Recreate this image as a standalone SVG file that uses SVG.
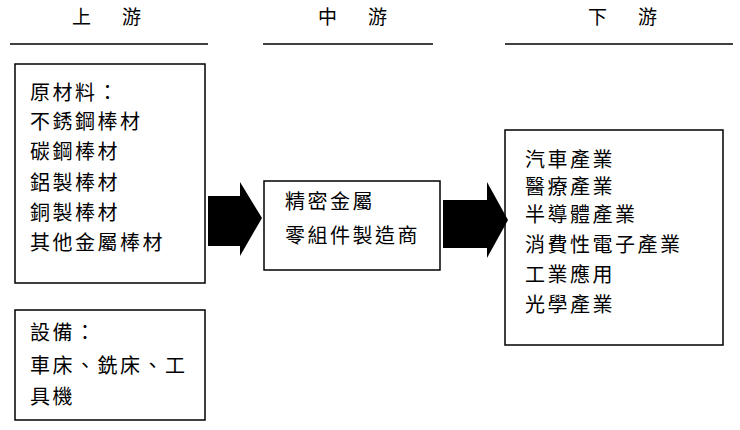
<svg xmlns="http://www.w3.org/2000/svg" width="740" height="430" viewBox="0 0 740 430">
<style>
text{font-family:"Liberation Serif","Noto Sans CJK TC",serif;font-size:20px;letter-spacing:2.5px;fill:#000}
.h{font-size:19px;letter-spacing:6px}
.b{fill:#fff;stroke:#000;stroke-width:1.5}
.u{stroke:#000;stroke-width:1.5}
</style>
<rect width="740" height="430" fill="#fff"/>
<g id="headers">
<text class="h" x="72" y="24">上　游</text>
<text class="h" x="318" y="24">中　游</text>
<text class="h" x="588" y="24">下　游</text>
<line class="u" x1="10" y1="44" x2="208" y2="44"/>
<line class="u" x1="263" y1="44" x2="433" y2="44"/>
<line class="u" x1="505" y1="44" x2="733" y2="44"/>
</g>
<g id="materials">
<rect class="b" x="15" y="64" width="190" height="219"/>
<text x="30" y="100">原材料：</text>
<text x="30" y="129">不銹鋼棒材</text>
<text x="30" y="159">碳鋼棒材</text>
<text x="30" y="190">鋁製棒材</text>
<text x="30" y="220">銅製棒材</text>
<text x="30" y="250">其他金屬棒材</text>
</g>
<g id="equipment">
<rect class="b" x="15" y="310" width="190" height="110"/>
<text x="30" y="340">設備：</text>
<text x="30" y="373">車床、銑床、工</text>
<text x="30" y="404">具機</text>
</g>
<g id="midstream">
<rect class="b" x="264" y="181" width="176" height="89"/>
<text x="285" y="209">精密金屬</text>
<text x="285" y="243">零組件製造商</text>
</g>
<g id="downstream">
<rect class="b" x="505" y="130" width="218" height="215"/>
<text x="525" y="167">汽車產業</text>
<text x="525" y="194">醫療產業</text>
<text x="525" y="222">半導體產業</text>
<text x="525" y="252">消費性電子產業</text>
<text x="525" y="282">工業應用</text>
<text x="525" y="312">光學產業</text>
</g>
<g id="connectors">
<polygon points="208,196 240,196 240,182 262,218 240,256 240,246 208,246" fill="#000"/>
<polygon points="443,200 487,200 487,182 508,220 487,258 487,248 443,248" fill="#000"/>
</g>
</svg>
